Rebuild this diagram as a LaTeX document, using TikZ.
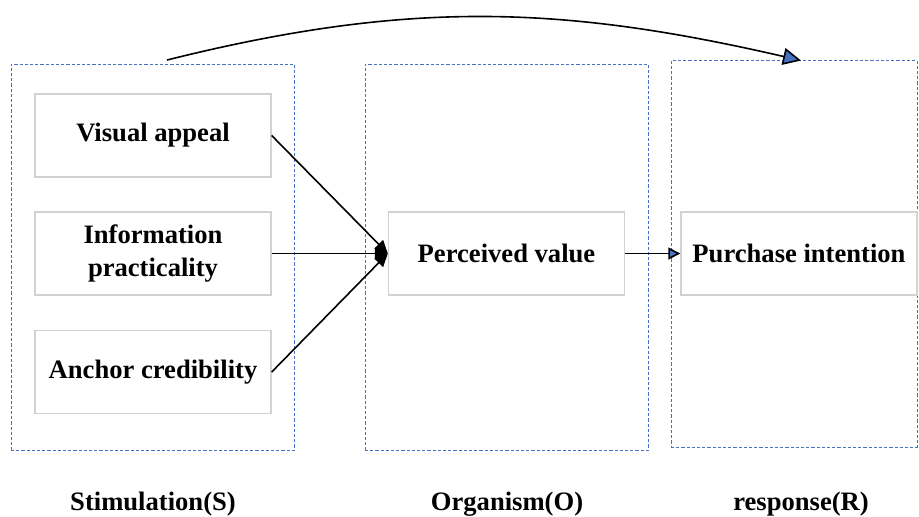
\documentclass[tikz,border=0pt]{standalone}
\usepackage{fontspec}
\setmainfont{Liberation Serif}
\usetikzlibrary{arrows.meta}
\definecolor{wordblue}{RGB}{68,114,196}
\tikzset{
  factor/.style={draw=gray!35,line width=0.7pt,minimum width=118pt,minimum height=41.5pt,
    align=center,inner sep=0pt,font=\fontsize{13.3}{16.5}\selectfont\bfseries},
  groupbox/.style={draw=wordblue,dashed,dash pattern=on 1.6pt off 1pt,line width=0.5pt,inner sep=0pt},
  stage/.style={anchor=base,font=\fontsize{13.3}{16.5}\selectfont\bfseries},
  link/.style={line width=0.8pt,-{Triangle[length=6.5pt,width=6pt]}},
  bluelink/.style={line width=0.8pt,-{Triangle[length=6pt,width=6pt,fill=wordblue]}}
}
\begin{document}
\begin{tikzpicture}[x=0.5pt,y=-0.5pt]
   \useasboundingbox (0,0) rectangle (919,516);
   \node [groupbox,minimum width=141.75pt,minimum height=193pt] (groupS) at (152.75,257) {};
   \node [groupbox,minimum width=141.75pt,minimum height=193pt] (groupO) at (506.75,257) {};
   \node [groupbox,minimum width=123pt,minimum height=193.25pt] (groupR) at (794,253.75) {};
   \node [factor] (visual) at (153,135.5) {Visual appeal};
   \node [factor] (info) at (153,253.5) {Information\\practicality};
   \node [factor] (anchor) at (153,372) {Anchor credibility};
   \node [factor] (value) at (506.5,253.5) {Perceived value};
   \node [factor] (intent) at (799,253.5) {Purchase intention};
   \node [stage] (labS) at (153,510) {Stimulation(S)};
   \node [stage] (labO) at (507,510) {Organism(O)};
   \node [stage] (labR) at (801,510) {response(R)};
   \coordinate (curveS) at (167,60);
   \coordinate (curveR) at (801,60.5);
   \draw [link] (visual.east)--(value.west);
   \draw [link] (info.east)--(value.west);
   \draw [link] (anchor.east)--(value.west);
   \draw [bluelink] (value.east)--(intent.west);
   \draw [line width=0.8pt,-{Triangle[length=9pt,width=8.5pt,fill=wordblue]}] (curveS) to [out=14,in=167] (curveR);
 \end{tikzpicture}
\end{document}
